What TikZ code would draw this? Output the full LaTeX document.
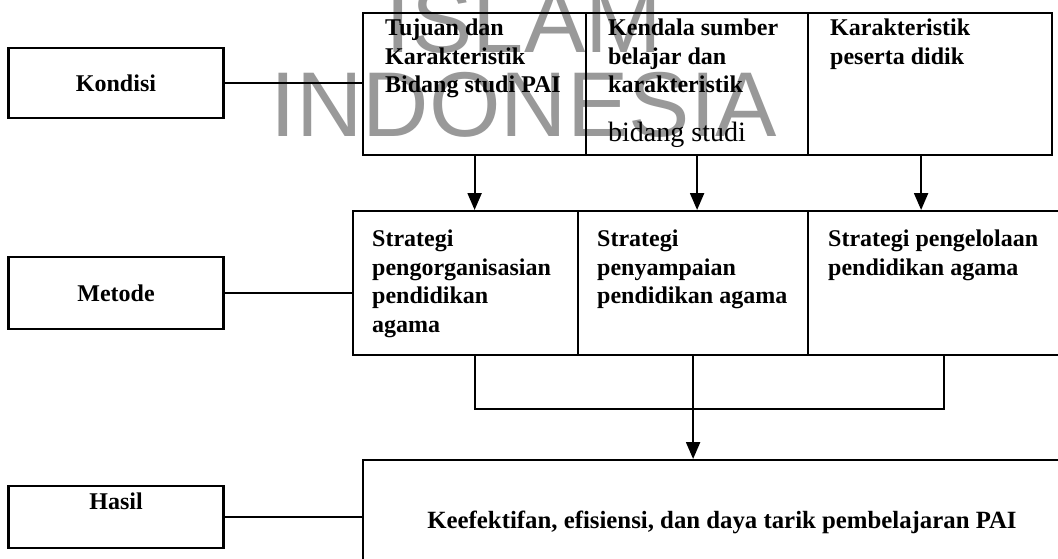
\documentclass[tikz,border=0pt]{standalone}
\usepackage{fontspec}
\setmainfont{Liberation Serif}
\newfontfamily\tandafont{Liberation Sans}
\usetikzlibrary{arrows.meta}

\tikzset{
  sel/.style={draw, line width=2.2pt, anchor=north west, inner sep=0pt},
  judul/.style={draw, line width=2.2pt, minimum width=215pt, minimum height=70pt,
    font=\fontsize{24}{28.5}\selectfont\bfseries},
  isi/.style={anchor=north west, align=left, inner sep=0pt,
    font=\fontsize{24}{28.5}\selectfont\bfseries},
  garis/.style={line width=2.2pt},
  panah/.style={line width=2.2pt, -{Triangle[length=17pt,width=14pt]}},
  tanda/.style={text=black!40, font=\tandafont\fontsize{92}{92}\selectfont, inner sep=0pt},
}

\begin{document}
\begin{tikzpicture}[x=1pt, y=-1pt]
        \useasboundingbox (0,0) rectangle (1058,558);

        % Watermark
        \node[tanda, anchor=base] (islam) at (524,52) {ISLAM};
        \node[tanda, anchor=base] (indonesia) at (524,136) {INDONESIA};

        % Left labels
        \node[judul] (kondisi) at (116,83) {Kondisi};
        \node[judul, minimum height=72pt] (metode) at (116,293) {Metode};
        \node[judul, minimum height=62pt] (hasil) at (116,517) {};
        \node[isi, anchor=center] (hasilteks) at ([yshift=16pt]hasil.center) {Hasil};

        % Kondisi row
        \node[sel, minimum width=223pt, minimum height=142pt] (tujuan) at (362,12) {};
        \node[sel, minimum width=222pt, minimum height=142pt] (kendala) at (585,12) {};
        \node[sel, minimum width=244pt, minimum height=142pt] (peserta) at (807,12) {};

        \node[isi] (tujuanteks) at (385,19) {Tujuan dan\\Karakteristik\\Bidang studi PAI};
        \node[isi] (kendalateks) at (608,19) {Kendala sumber\\belajar dan\\karakteristik};
        \node[isi, anchor=base west, font=\fontsize{28}{30}\selectfont] (kendalabidang) at (608,141) {bidang studi};
        \node[isi] (pesertateks) at (830,19) {Karakteristik\\peserta didik};

        % Metode row
        \node[sel, minimum width=225pt, minimum height=144pt] (organisasi) at (352,210) {};
        \node[sel, minimum width=230pt, minimum height=144pt] (sampai) at (577,210) {};
        \node[sel, minimum width=260pt, minimum height=144pt] (kelola) at (807,210) {};

        \node[isi] (organisasiteks) at (372,230) {Strategi\\pengorganisasian\\pendidikan\\agama};
        \node[isi] (sampaiteks) at (597,230) {Strategi\\penyampaian\\pendidikan agama};
        \node[isi] (kelolateks) at (828,230) {Strategi pengelolaan\\pendidikan agama};

        % Hasil row
        \node[sel, minimum width=710pt, minimum height=110pt] (efektif) at (362,459) {};
        \node[isi, anchor=base, font=\fontsize{24.8}{28.5}\selectfont\bfseries] (efektifteks) at (722,528) {Keefektifan, efisiensi, dan daya tarik pembelajaran PAI};

        % Lines from the labels
        \draw[garis] (kondisi.east) -- (kondisi.east -| tujuan.west);
        \draw[garis] (metode.east) -- (metode.east -| organisasi.west);
        \draw[garis] (hasil.east) -- (hasil.east -| efektif.west);

        % Arrows down
        \draw[panah] (tujuan.south) -- (tujuan.south |- organisasi.north);
        \draw[panah] (kendala.south) -- (kendala.south |- sampai.north);
        \draw[panah] ([xshift=-9pt]peserta.south) -- ([xshift=-9pt]peserta.south |- kelola.north);

        % Joining bracket
        \coordinate (siku) at (944,409);
        \draw[garis] (tujuan.south |- organisasi.south) |- (siku) -- (siku |- kelola.south);
        \draw[panah] (sampai.south) -- (sampai.south |- efektif.north);
\end{tikzpicture}
\end{document}
